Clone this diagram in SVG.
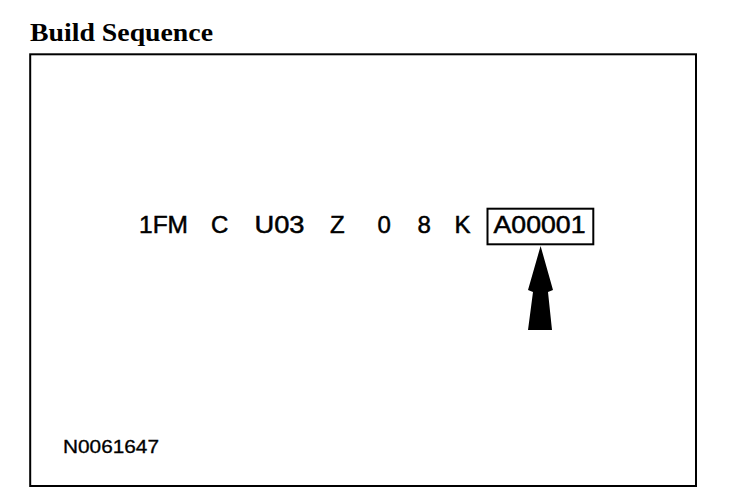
<svg xmlns="http://www.w3.org/2000/svg" width="752" height="502" viewBox="0 0 752 502">
<style>
.t{font-family:"Liberation Sans",Arial,sans-serif;font-size:24px;fill:#000;stroke:#000;stroke-width:0.5}
.ttl{font-family:"Liberation Serif","Times New Roman",serif;font-size:25px;font-weight:bold;fill:#000}
.id{font-family:"Liberation Sans",Arial,sans-serif;font-size:18px;fill:#000;stroke:#000;stroke-width:0.3}
.ln{fill:none;stroke:#000;stroke-width:2}
</style>
<rect width="752" height="502" fill="#fff"/>
<text class="ttl" x="30" y="41" textLength="183" lengthAdjust="spacingAndGlyphs">Build Sequence</text>
<rect class="ln" x="30.2" y="54.3" width="665.8" height="431.7"/>
<g id="vin">
<text class="t" x="139" y="233" textLength="49" lengthAdjust="spacingAndGlyphs">1FM</text>
<text class="t" x="211" y="233">C</text>
<text class="t" x="254.5" y="233" textLength="50" lengthAdjust="spacingAndGlyphs">U03</text>
<text class="t" x="330" y="233">Z</text>
<text class="t" x="377.5" y="233">0</text>
<text class="t" x="417.5" y="233">8</text>
<text class="t" x="454.5" y="233">K</text>
</g>
<g id="seq">
<rect class="ln" x="487.5" y="208.7" width="105.8" height="35.6"/>
<text class="t" x="493.5" y="233" textLength="92" lengthAdjust="spacingAndGlyphs">A00001</text>
</g>
<g id="connectors">
<polygon points="540.6,246 553,290 548,292 552,330 528,330 533,292 528,290" fill="#000"/>
</g>
<text class="id" x="63" y="453" textLength="96" lengthAdjust="spacingAndGlyphs">N0061647</text>
</svg>
